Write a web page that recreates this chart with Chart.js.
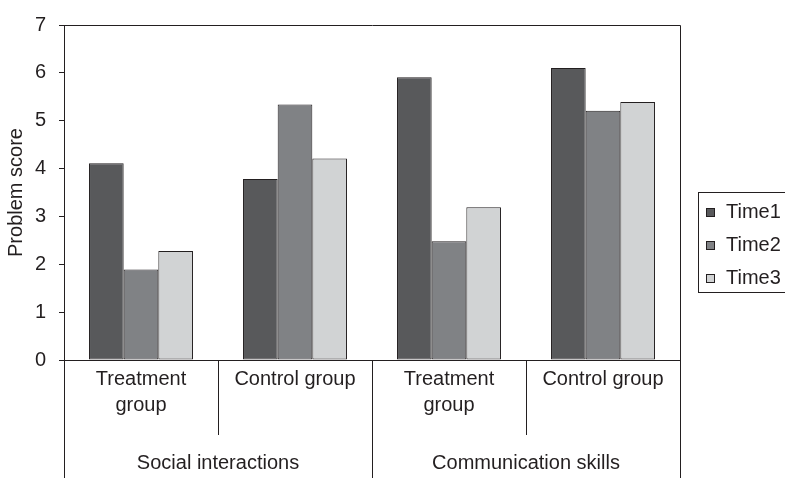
<!DOCTYPE html>
<html>
<head>
<meta charset="utf-8">
<script src="https://cdn.jsdelivr.net/npm/chart.js@4.4.1/dist/chart.umd.min.js"></script>
<style>
  html, body { margin: 0; padding: 0; background: #ffffff; }
  canvas { display: block; }
</style>
</head>
<body>
<canvas id="chart" width="785" height="478"></canvas>
<script>
// Categories (two levels) and series
const subgroups = [['Treatment', 'group'], 'Control group', ['Treatment', 'group'], 'Control group'];
const domains = ['Social interactions', 'Communication skills'];
const seriesNames = ['Time1', 'Time2', 'Time3'];
const time1 = [4.11, 3.78, 5.91, 6.10];
const time2 = [1.89, 5.34, 2.48, 5.21];
const time3 = [2.28, 4.21, 3.19, 5.39];
const yTicks = [0, 1, 2, 3, 4, 5, 6, 7];

const fillColors = ['#58595b', '#808285', '#d1d3d4'];
const inkColor = '#231f20';
const fontFamily = '"Liberation Sans", Arial, sans-serif';

/**
 * Caja del área de trazado, separadores y etiquetas del segundo nivel
 */
const frameAndGroups = {
    id: 'frameAndGroups',
    afterDraw(chart) {
        const { ctx, chartArea } = chart;
        const xs = chart.scales.x;
        const n = subgroups.length;
        const w = (xs.right - xs.left) / n;
        const bottom = chart.height;

        ctx.save();
        ctx.strokeStyle = inkColor;
        ctx.lineWidth = 1;

        // top and right border of the plot box
        ctx.beginPath();
        ctx.moveTo(Math.round(chartArea.left) + 0.5, Math.round(chartArea.top) + 0.5);
        ctx.lineTo(Math.round(chartArea.right) + 0.5, Math.round(chartArea.top) + 0.5);
        ctx.lineTo(Math.round(chartArea.right) + 0.5, Math.round(chartArea.bottom) + 0.5);
        ctx.stroke();

        // dividers below the axis
        for (let k = 0; k <= n; k++) {
            const x = Math.round(xs.left + k * w) + 0.5;
            const long = k % 2 === 0;
            ctx.beginPath();
            ctx.moveTo(x, Math.round(chartArea.bottom));
            ctx.lineTo(x, long ? bottom : chartArea.bottom + 75);
            ctx.stroke();
        }

        // outer level labels
        ctx.fillStyle = inkColor;
        ctx.font = '20px ' + fontFamily;
        ctx.textAlign = 'center';
        ctx.textBaseline = 'middle';
        domains.forEach((name, i) => {
            const cx = xs.left + (i * 2 + 1) * w;
            ctx.fillText(name, cx, chartArea.bottom + 103);
        });
        ctx.restore();
    }
};

/**
 * Leyenda a la derecha, dibujada desde los datasets
 */
const sideLegend = {
    id: 'sideLegend',
    afterDraw(chart) {
        const { ctx } = chart;
        const left = 698;
        const top = 192;
        ctx.save();
        ctx.strokeStyle = inkColor;
        ctx.lineWidth = 1;
        ctx.strokeRect(left + 0.5, top + 0.5, 120, 100);

        ctx.font = '20px ' + fontFamily;
        ctx.textAlign = 'left';
        ctx.textBaseline = 'middle';
        chart.data.datasets.forEach((ds, i) => {
            const cy = top + 20 + i * 33;
            ctx.fillStyle = ds.backgroundColor;
            ctx.fillRect(706, cy - 4, 9, 9);
            ctx.strokeRect(706.5, cy - 3.5, 8, 8);
            ctx.fillStyle = inkColor;
            ctx.fillText(ds.label, 726, cy);
        });
        ctx.restore();
    }
};

const ctx = document.getElementById('chart').getContext('2d');
new Chart(ctx, {
    type: 'bar',
    data: {
        labels: subgroups,
        datasets: [time1, time2, time3].map((values, i) => ({
            label: seriesNames[i],
            data: values,
            backgroundColor: fillColors[i],
            borderColor: inkColor,
            borderWidth: 1,
            borderSkipped: false,
            categoryPercentage: 0.675,
            barPercentage: 1.0
        }))
    },
    options: {
        responsive: false,
        animation: false,
        devicePixelRatio: 1,
        layout: { padding: { left: 0, right: 105, top: 14, bottom: 0 } },
        plugins: {
            legend: { display: false },
            tooltip: { enabled: false }
        },
        scales: {
            x: {
                grid: { display: false, drawTicks: false },
                border: { display: true, color: inkColor, width: 1 },
                ticks: {
                    color: inkColor,
                    font: { family: fontFamily, size: 20, lineHeight: 1.3 },
                    padding: 6,
                    maxRotation: 0,
                    autoSkip: false
                },
                afterFit(scale) { scale.height = 118; }
            },
            y: {
                min: 0,
                max: 7,
                afterBuildTicks(scale) { scale.ticks = yTicks.map(v => ({ value: v })); },
                grid: {
                    drawOnChartArea: false,
                    drawTicks: true,
                    tickLength: 5,
                    color: inkColor
                },
                border: { display: true, color: inkColor, width: 1 },
                ticks: {
                    color: inkColor,
                    font: { family: fontFamily, size: 20 },
                    padding: 13
                },
                title: {
                    display: true,
                    text: 'Problem score',
                    color: inkColor,
                    font: { family: fontFamily, size: 20 },
                    padding: { top: 4, bottom: 0 }
                },
                afterFit(scale) { scale.width = 64; }
            }
        }
    },
    plugins: [frameAndGroups, sideLegend]
});
</script>
</body>
</html>
